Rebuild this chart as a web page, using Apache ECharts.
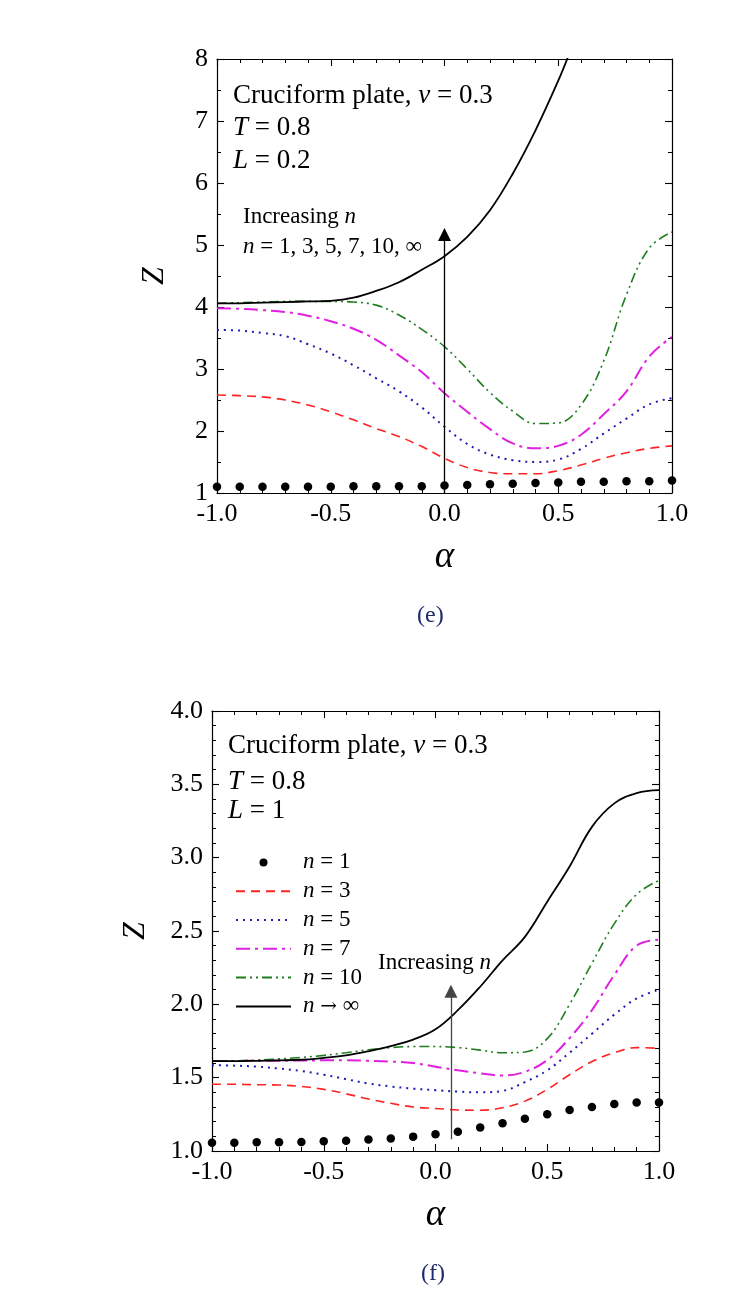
<!DOCTYPE html>
<html><head><meta charset="utf-8">
<script src="https://cdn.jsdelivr.net/npm/echarts@6/dist/echarts.min.js"></script>
<style>html,body{margin:0;padding:0;background:#fff}#c{width:750px;height:1294px}</style>
</head><body><div id="c"></div>
<script>
// ---------- data ----------
const alpha = [-1.0,-0.9,-0.8,-0.7,-0.6,-0.5,-0.4,-0.3,-0.2,-0.1,0.0,0.1,0.2,0.3,0.4,0.5,0.6,0.7,0.8,0.9,1.0];
const seriesNames = ['n = 1','n = 3','n = 5','n = 7','n = 10','n → ∞'];

// panel (e): L = 0.2
const eN1   = [1.10,1.10,1.10,1.10,1.10,1.10,1.11,1.11,1.11,1.11,1.12,1.13,1.14,1.15,1.16,1.17,1.18,1.18,1.19,1.19,1.20];
const eN3   = [2.58,2.57,2.55,2.50,2.42,2.31,2.18,2.04,1.91,1.75,1.56,1.41,1.33,1.31,1.31,1.36,1.45,1.56,1.65,1.72,1.76];
const eN5   = [3.63,3.62,3.58,3.53,3.40,3.25,3.06,2.85,2.64,2.38,2.07,1.79,1.62,1.53,1.50,1.54,1.71,1.96,2.20,2.43,2.53];
const eN7   = [3.98,3.97,3.95,3.92,3.86,3.77,3.65,3.47,3.22,2.95,2.61,2.31,2.03,1.80,1.72,1.76,1.94,2.27,2.64,3.20,3.52];
const eN10  = [4.06,4.07,4.08,4.09,4.09,4.09,4.08,4.03,3.87,3.64,3.36,3.00,2.62,2.32,2.12,2.13,2.42,3.13,4.20,4.95,5.21];
const eInfAlpha = [-1.0,-0.9,-0.8,-0.7,-0.6,-0.5,-0.4,-0.3,-0.2,-0.1,0.0,0.1,0.2,0.3,0.4,0.5,0.55];
const eInf  = [4.06,4.06,4.07,4.08,4.09,4.10,4.15,4.26,4.40,4.60,4.82,5.13,5.56,6.15,6.85,7.65,8.10];
const eArrow = [0.0, 1.0, 5.17];          // x, yStart, yEnd

// panel (f): L = 1
const fN1   = [1.057,1.057,1.059,1.060,1.062,1.066,1.070,1.078,1.085,1.098,1.114,1.132,1.160,1.190,1.220,1.250,1.280,1.300,1.320,1.330,1.330];
const fN3   = [1.455,1.455,1.452,1.450,1.440,1.420,1.390,1.355,1.325,1.300,1.290,1.280,1.278,1.295,1.340,1.420,1.520,1.610,1.670,1.705,1.700];
const fN5   = [1.585,1.582,1.575,1.562,1.545,1.520,1.490,1.460,1.440,1.425,1.415,1.405,1.400,1.410,1.470,1.550,1.670,1.800,1.930,2.040,2.100];
const fN7   = [1.613,1.614,1.615,1.616,1.617,1.618,1.618,1.615,1.610,1.600,1.575,1.550,1.530,1.515,1.540,1.620,1.770,1.960,2.200,2.400,2.440];
const fN10  = [1.613,1.615,1.620,1.628,1.638,1.652,1.670,1.690,1.705,1.712,1.712,1.705,1.688,1.670,1.675,1.766,2.000,2.280,2.550,2.750,2.845];
const fInf  = [1.613,1.613,1.615,1.618,1.622,1.635,1.652,1.680,1.715,1.760,1.830,1.960,2.120,2.300,2.460,2.700,2.940,3.210,3.370,3.440,3.460];
const fArrow = [0.069, 1.08, 2.09];

const xTicks = {min:-1, max:1, interval:0.5};
const yTicksE = {min:1, max:8, interval:1};
const yTicksF = {min:1, max:4, interval:0.5};

// ---------- styles ----------
const FONT = 'Liberation Serif';
const styles = [
  {color:'#000000', type:'solid', width:0},
  {color:'#ff2222', type:[9,6], width:1.6},
  {color:'#1c1cb0', type:[2,5], width:2},
  {color:'#e020e0', type:[14,5,3,5], width:2},
  {color:'#1e7d1e', type:[10,4,2,4,2,4], width:1.6},
  {color:'#000000', type:'solid', width:1.8}
];

const pair = (xs, ys) => xs.map((x,i)=>[x, ys[i]]);

function lineSeries(idx, xs, ys, axis, extra) {
  const s = styles[idx];
  return Object.assign({
    name: seriesNames[idx], type:'line', xAxisIndex:axis, yAxisIndex:axis,
    data: pair(xs, ys), symbol:'none', smooth:0.4, clip:true, silent:true,
    color: s.color,
    lineStyle:{color:s.color, type:s.type, width:s.width},
    emphasis:{disabled:true}, z:3
  }, extra||{});
}
function dotSeries(xs, ys, axis) {
  return {name: seriesNames[0], type:'scatter', xAxisIndex:axis, yAxisIndex:axis,
    data: pair(xs, ys), symbol:'circle', symbolSize:8.5, silent:true, color:'#000',
    itemStyle:{color:'#000', opacity:1}, emphasis:{disabled:true}, z:4};
}
function arrowMark(a, color) {
  return {silent:true, symbol:['none','triangle'], symbolSize:13,
    lineStyle:{type:'solid', color:color, width:1.3}, itemStyle:{color:color},
    label:{show:false}, emphasis:{disabled:true}, animation:false,
    data:[[{coord:[a[0], a[1]]},{coord:[a[0], a[2]]}]]};
}

function xAxisDef(grid, pos, show) {
  return Object.assign({type:'value', gridIndex:grid, position:pos}, xTicks, {
    axisLine:{show:true, onZero:false, lineStyle:{color:'#000', width:1.2}},
    axisTick:{show:true, inside:true, length:7, lineStyle:{color:'#000', width:1.1}},
    minorTick:{show:true, splitNumber:5, length:4, lineStyle:{color:'#000', width:1}},
    splitLine:{show:false},
    axisLabel:{show:show, fontFamily:FONT, fontSize:26, color:'#000', margin:8,
      formatter:v=>v.toFixed(1)},
    name: show ? 'α' : '', nameLocation:'middle', nameGap:46,
    nameTextStyle:{fontFamily:FONT, fontStyle:'italic', fontSize:37, color:'#000'}
  });
}
function yAxisDef(grid, pos, show, ticks, minorSplit, fmt, gap) {
  return Object.assign({type:'value', gridIndex:grid, position:pos}, ticks, {
    axisLine:{show:true, onZero:false, lineStyle:{color:'#000', width:1.2}},
    axisTick:{show:true, inside:true, length:7, lineStyle:{color:'#000', width:1.1}},
    minorTick:{show:true, splitNumber:minorSplit, length:4, lineStyle:{color:'#000', width:1}},
    splitLine:{show:false},
    axisLabel:{show:show, fontFamily:FONT, fontSize:26, color:'#000', margin:9, formatter:fmt},
    name: show ? 'Z' : '', nameLocation:'middle', nameGap:gap,
    nameTextStyle:{fontFamily:FONT, fontStyle:'italic', fontSize:32, color:'#000'}
  });
}

function txt(x, y, text, size, color) {
  return {type:'text', x:x, y:y, silent:true,
    style:{text:text, fontFamily:FONT, fontSize:size, fill:color||'#000',
      verticalAlign:'middle', align:'left',
      rich:{i:{fontFamily:FONT, fontStyle:'italic', fontSize:size, fill:color||'#000'}}}};
}

const legendData = seriesNames.map((n, i) => i === 0
  ? {name:n}
  : {name:n, itemStyle:{opacity:0}});

const option = {
  animation:false,
  backgroundColor:'#ffffff',
  grid:[
    {left:217, top:59, width:455, height:434, containLabel:false},
    {left:212, top:711, width:447, height:440, containLabel:false}
  ],
  xAxis:[
    xAxisDef(0,'bottom',true), xAxisDef(0,'top',false),
    xAxisDef(1,'bottom',true), xAxisDef(1,'top',false)
  ],
  yAxis:[
    yAxisDef(0,'left',true,yTicksE,2,v=>String(v),46), yAxisDef(0,'right',false,yTicksE,2,v=>String(v),46),
    yAxisDef(1,'left',true,yTicksF,5,v=>v.toFixed(1),60), yAxisDef(1,'right',false,yTicksF,5,v=>v.toFixed(1),60)
  ],
  legend:{
    orient:'vertical', left:230, top:843, itemWidth:55, itemHeight:8, itemGap:0,
    selectedMode:false, inactiveColor:'#000',
    data:legendData,
    formatter:name=>'{i|n}'+name.slice(1).replace('→','{a|→}'),
    textStyle:{fontFamily:FONT, fontSize:23, color:'#000', lineHeight:28.8, padding:[0,0,0,7],
      rich:{i:{fontFamily:FONT, fontStyle:'italic', fontSize:23, lineHeight:28.8},
            a:{fontFamily:'DejaVu Serif', fontSize:20, lineHeight:28.8}}}
  },
  series:[
    dotSeries(alpha, eN1, 0),
    lineSeries(1, alpha, eN3, 0),
    lineSeries(2, alpha, eN5, 0),
    lineSeries(3, alpha, eN7, 0),
    lineSeries(4, alpha, eN10, 0),
    lineSeries(5, eInfAlpha, eInf, 0, {markLine: arrowMark(eArrow, '#000')}),
    dotSeries(alpha, fN1, 2),
    lineSeries(1, alpha, fN3, 2),
    lineSeries(2, alpha, fN5, 2),
    lineSeries(3, alpha, fN7, 2),
    lineSeries(4, alpha, fN10, 2),
    lineSeries(5, alpha, fInf, 2, {markLine: arrowMark(fArrow, '#444')})
  ],
  graphic:[
    txt(233, 96, 'Cruciform plate, {i|ν} = 0.3', 27),
    txt(233, 128, '{i|T} = 0.8', 27),
    txt(233, 161, '{i|L} = 0.2', 27),
    txt(243, 217, 'Increasing {i|n}', 23),
    txt(243, 247, '{i|n} = 1, 3, 5, 7, 10, ∞', 23),
    txt(417, 616, '(e)', 24, '#1d2c6b'),
    txt(228, 746, 'Cruciform plate, {i|ν} = 0.3', 27),
    txt(228, 782, '{i|T} = 0.8', 27),
    txt(228, 811, '{i|L} = 1', 27),
    txt(378, 963, 'Increasing {i|n}', 23),
    txt(421, 1274, '(f)', 24, '#1d2c6b')
  ]
};
const chart = echarts.init(document.getElementById('c'), null, {renderer:'canvas'});
chart.setOption(option);
</script></body></html>
